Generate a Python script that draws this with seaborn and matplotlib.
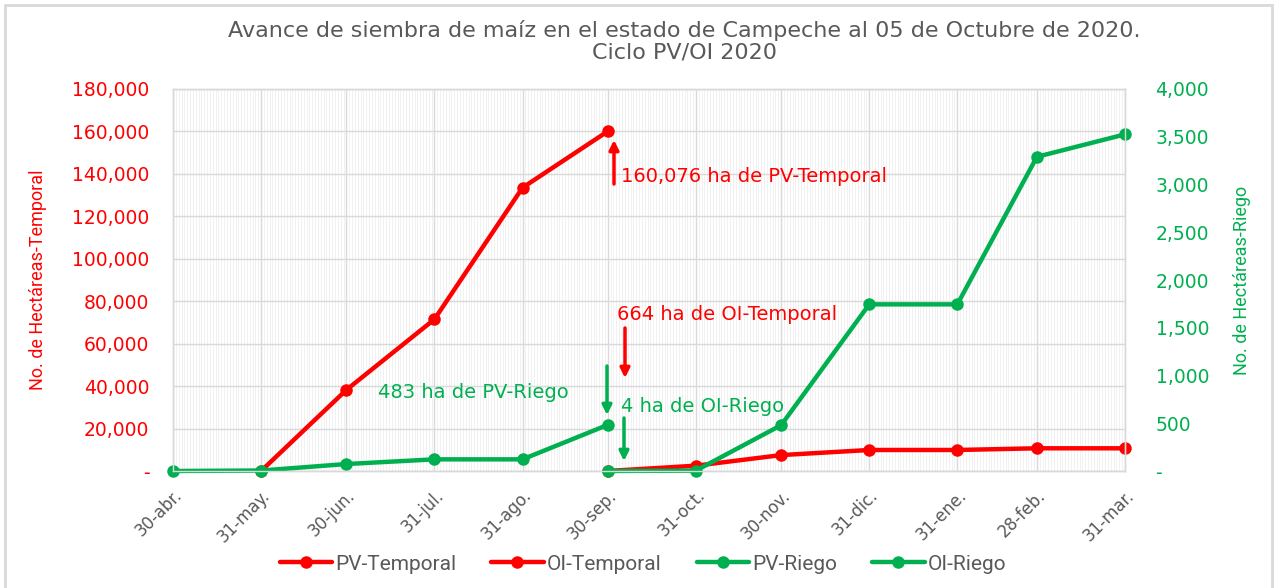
import pandas as pd
import matplotlib.pyplot as plt
import matplotlib.dates as mdates
from matplotlib.ticker import FuncFormatter, MultipleLocator
from matplotlib.patches import Rectangle
import seaborn as sns

# fechas de corte (fin de mes)
fechas = pd.to_datetime(['2020-04-30', '2020-05-31', '2020-06-30', '2020-07-31',
                         '2020-08-31', '2020-09-30', '2020-10-31', '2020-11-30',
                         '2020-12-31', '2021-01-31', '2021-02-28', '2021-03-31'])
etiquetas = ['30-abr.', '31-may.', '30-jun.', '31-jul.', '31-ago.', '30-sep.',
             '31-oct.', '30-nov.', '31-dic.', '31-ene.', '28-feb.', '31-mar.']

# hectareas temporal (eje izq.)
fechas_pv_temporal = fechas[1:6]
pv_temporal = [0, 38200, 71500, 133500, 160076]
fechas_oi_temporal = fechas[5:]
oi_temporal = [0, 2500, 7500, 9900, 9900, 10700, 10700]

# hectareas riego (eje der.)
fechas_pv_riego = fechas[0:6]
pv_riego = [0, 5, 73, 122, 122, 483]
fechas_oi_riego = fechas[5:]
oi_riego = [0, 4, 480, 1745, 1745, 3290, 3525]

rojo = '#FF0000'
verde = '#00B050'
gris = '#595959'

sns.set_style('white')
plt.rcParams['font.family'] = ['DejaVu Sans']

W, H = 1276, 588
fig = plt.figure(figsize=(W / 100, H / 100), dpi=100)
ax = fig.add_axes([173 / W, (H - 471) / H, 952 / W, 382 / H])
ax2 = ax.twinx()


def px(x, y):
    return (x / W, 1 - y / H)


estilo = dict(lw=3.2, marker='o', markersize=9, markeredgewidth=0, legend=False, clip_on=False)
sns.lineplot(x=fechas_pv_temporal, y=pv_temporal, ax=ax, color=rojo, mec=rojo, label='PV-Temporal', **estilo)
sns.lineplot(x=fechas_oi_temporal, y=oi_temporal, ax=ax, color=rojo, mec=rojo, label='OI-Temporal', **estilo)
sns.lineplot(x=fechas_pv_riego, y=pv_riego, ax=ax2, color=verde, mec=verde, label='PV-Riego', **estilo)
sns.lineplot(x=fechas_oi_riego, y=oi_riego, ax=ax2, color=verde, mec=verde, label='OI-Riego', **estilo)

# ejes
ax.set_xlim(fechas[0], fechas[-1])
ax.set_ylim(0, 180000)
ax2.set_ylim(0, 4000)
ax.yaxis.set_major_locator(MultipleLocator(20000))
ax2.yaxis.set_major_locator(MultipleLocator(500))
fmt = FuncFormatter(lambda v, p: '-' if v == 0 else f'{v:,.0f}')
ax.yaxis.set_major_formatter(fmt)
ax2.yaxis.set_major_formatter(fmt)

ax.set_xticks(fechas)
ax.set_xticklabels(etiquetas, rotation=45, ha='right', rotation_mode='anchor')
ax.xaxis.set_minor_locator(mdates.DayLocator())
ax.tick_params(axis='x', which='major', colors='#d9d9d9', labelcolor=gris, labelsize=12, length=4, pad=7)
ax.tick_params(axis='x', which='minor', length=0)
ax.tick_params(axis='y', colors=rojo, labelsize=13.5, length=0, pad=17)
ax2.tick_params(axis='y', colors=verde, labelsize=13.5, length=0, pad=22)

ax.set_axisbelow(True)
ax.grid(which='minor', axis='x', color='#efefef', lw=0.6)
ax.grid(which='major', color='#d9d9d9', lw=1)
for a in (ax, ax2):
    for s in a.spines.values():
        s.set_color('#d9d9d9')
        s.set_linewidth(1)

ax.set_xlabel('')
ax.set_ylabel('No. de Hectáreas-Temporal', color=rojo, fontsize=13, family='Roboto')
ax.yaxis.set_label_coords((47 - 173) / 952, 0.5)
ax2.set_ylabel('No. de Hectáreas-Riego', color=verde, fontsize=13, family='Roboto', rotation=90)
ax2.yaxis.set_label_coords((1233 - 173) / 952, 0.5)

# titulo
fig.text(*px(684, 41), 'Avance de siembra de maíz en el estado de Campeche al 05 de Octubre de 2020.\nCiclo PV/OI 2020',
         ha='center', va='center', fontsize=16, color=gris, linespacing=1.1)

# anotaciones
flecha = dict(arrowstyle='-|>', lw=2.5, mutation_scale=14, shrinkA=0, shrinkB=0)
ax.annotate('', xy=px(614, 140), xytext=px(614, 184), xycoords='figure fraction',
            arrowprops=dict(color=rojo, **flecha))
ax.annotate('', xy=px(625, 378), xytext=px(625, 328), xycoords='figure fraction',
            arrowprops=dict(color=rojo, **flecha))
ax.annotate('', xy=px(607, 415), xytext=px(607, 366), xycoords='figure fraction',
            arrowprops=dict(color=verde, **flecha))
ax.annotate('', xy=px(624, 461), xytext=px(624, 418), xycoords='figure fraction',
            arrowprops=dict(color=verde, **flecha))
nota = dict(fontsize=14, va='center')
fig.text(*px(621, 176), '160,076 ha de PV-Temporal', color=rojo, **nota)
fig.text(*px(617, 315), '664 ha de OI-Temporal', color=rojo, **nota)
fig.text(*px(378, 392), '483 ha de PV-Riego', color=verde, **nota)
fig.text(*px(621, 406), '4 ha de OI-Riego', color=verde, **nota)

# leyenda
h1, l1 = ax.get_legend_handles_labels()
h2, l2 = ax2.get_legend_handles_labels()
fig.legend(h1 + h2, l1 + l2, loc='center', bbox_to_anchor=px(643, 564), ncol=4, frameon=False,
           labelcolor=gris, handlelength=2.5, columnspacing=1.7, handletextpad=0.15,
           prop={'family': 'Roboto', 'size': 15})

# marco exterior
fig.patches.append(Rectangle((5 / W, -0.05), (1272 - 5) / W, 1.05 - 5 / H, transform=fig.transFigure,
                             fill=False, edgecolor='#d9d9d9', lw=2))

fig.savefig('out.png', dpi=100)
